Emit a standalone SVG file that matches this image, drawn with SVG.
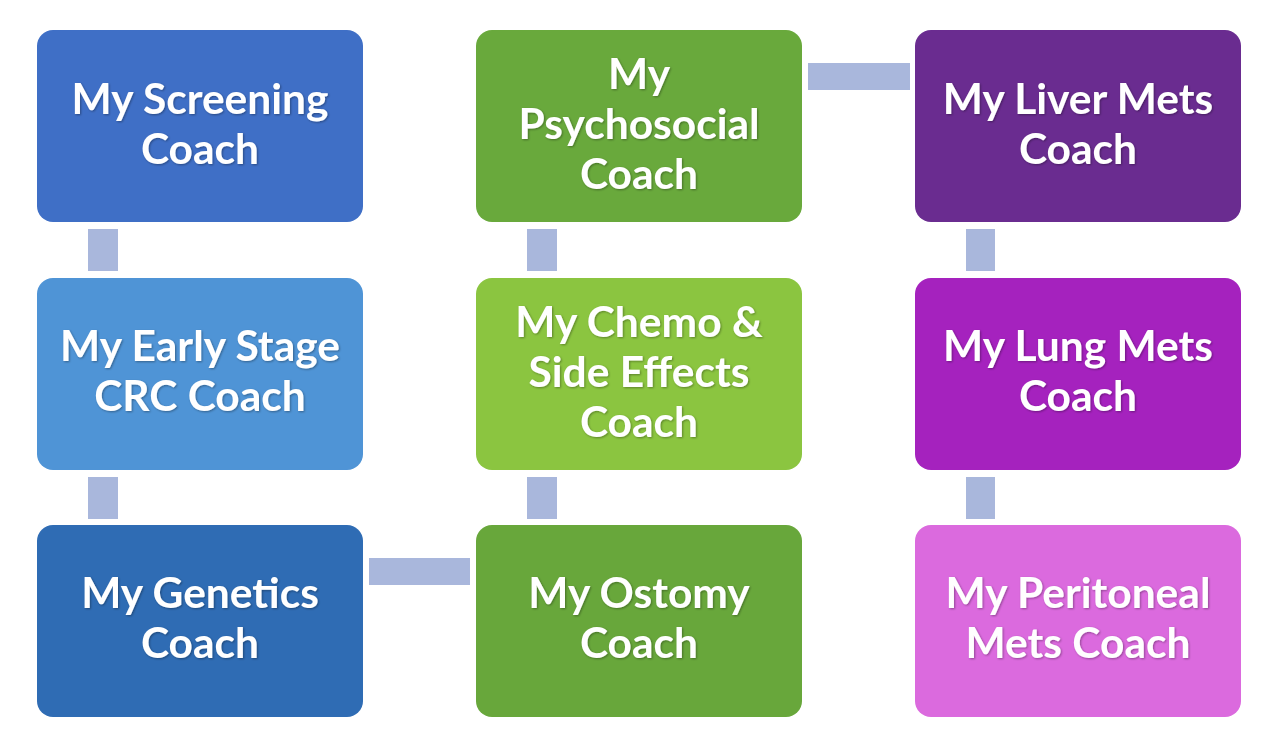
<svg xmlns="http://www.w3.org/2000/svg" width="1268" height="742" viewBox="0 0 1268 742">
<style>
.box{stroke:none}
.lbl{font-family:Lato,"Open Sans","Liberation Sans",sans-serif;font-weight:bold;font-size:42.5px;fill:#ffffff;text-anchor:middle;filter:url(#sh)}
.con{fill:#a9b7dc}
</style>
<defs>
<filter id="sh" x="-10%" y="-20%" width="120%" height="140%">
<feDropShadow dx="1" dy="1" stdDeviation="1" flood-color="#000" flood-opacity="0.35"/>
</filter>
</defs>
<rect width="1268" height="742" fill="#ffffff"/>
<g id="connectors">
<rect class="con" x="88" y="229" width="30" height="42"/>
<rect class="con" x="88" y="477" width="30" height="42"/>
<rect class="con" x="527" y="229" width="30" height="42"/>
<rect class="con" x="527" y="477" width="30" height="42"/>
<rect class="con" x="966" y="229" width="29" height="42"/>
<rect class="con" x="966" y="477" width="29" height="42"/>
<rect class="con" x="369" y="558" width="101" height="27"/>
<rect class="con" x="808" y="63" width="102" height="27"/>
</g>
<g id="screening">
<rect class="box" x="37" y="30" width="326" height="192" rx="16" fill="#3f6fc6"/>
<text class="lbl" x="200" y="114">My Screening</text>
<text class="lbl" x="200" y="164">Coach</text>
</g>
<g id="early">
<rect class="box" x="37" y="278" width="326" height="192" rx="16" fill="#4f94d6"/>
<text class="lbl" x="200" y="361">My Early Stage</text>
<text class="lbl" x="200" y="411">CRC Coach</text>
</g>
<g id="genetics">
<rect class="box" x="37" y="525" width="326" height="192" rx="16" fill="#2f6cb4"/>
<text class="lbl" x="200" y="608">My Genetics</text>
<text class="lbl" x="200" y="658">Coach</text>
</g>
<g id="psychosocial">
<rect class="box" x="476" y="30" width="326" height="192" rx="16" fill="#69a93c"/>
<text class="lbl" x="639" y="89">My</text>
<text class="lbl" x="639" y="139">Psychosocial</text>
<text class="lbl" x="639" y="189">Coach</text>
</g>
<g id="chemo">
<rect class="box" x="476" y="278" width="326" height="192" rx="16" fill="#8bc540"/>
<text class="lbl" x="639" y="337">My Chemo &amp;</text>
<text class="lbl" x="639" y="387">Side Effects</text>
<text class="lbl" x="639" y="437">Coach</text>
</g>
<g id="ostomy">
<rect class="box" x="476" y="525" width="326" height="192" rx="16" fill="#68a73b"/>
<text class="lbl" x="639" y="608">My Ostomy</text>
<text class="lbl" x="639" y="658">Coach</text>
</g>
<g id="liver">
<rect class="box" x="915" y="30" width="326" height="192" rx="16" fill="#6a2c90"/>
<text class="lbl" x="1078" y="114">My Liver Mets</text>
<text class="lbl" x="1078" y="164">Coach</text>
</g>
<g id="lung">
<rect class="box" x="915" y="278" width="326" height="192" rx="16" fill="#a522be"/>
<text class="lbl" x="1078" y="361">My Lung Mets</text>
<text class="lbl" x="1078" y="411">Coach</text>
</g>
<g id="peritoneal">
<rect class="box" x="915" y="525" width="326" height="192" rx="16" fill="#db6ade"/>
<text class="lbl" x="1078" y="608">My Peritoneal</text>
<text class="lbl" x="1078" y="658">Mets Coach</text>
</g>
</svg>
